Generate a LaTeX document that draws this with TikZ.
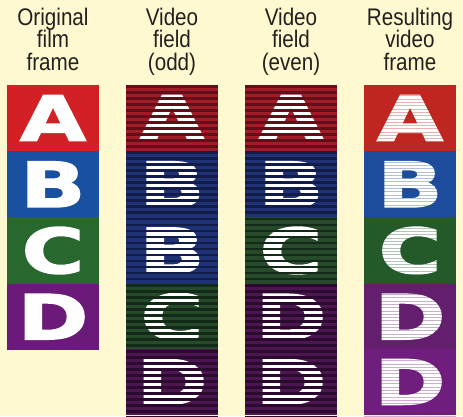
\documentclass[tikz,border=0pt]{standalone}
\usepackage{fontspec}
\setmainfont{Liberation Sans}
\newfontfamily\headfont[FakeStretch=0.86]{Liberation Sans}
\newfontfamily\blockfont[FakeStretch=1.38,FakeBold=2.5]{DejaVu Sans}
\usetikzlibrary{positioning}
\definecolor{paper}{RGB}{255,249,210}
\definecolor{headink}{RGB}{35,32,30}
% original film frame
\definecolor{filmred}{RGB}{210,32,36}
\definecolor{filmblue}{RGB}{26,80,160}
\definecolor{filmgreen}{RGB}{40,104,46}
\definecolor{filmpurple}{RGB}{108,26,122}
% video fields
\definecolor{fieldred}{RGB}{160,28,38}
\definecolor{fieldredline}{RGB}{98,14,24}
\definecolor{fieldblue}{RGB}{32,50,118}
\definecolor{fieldblueline}{RGB}{18,28,72}
\definecolor{fieldgreen}{RGB}{38,74,42}
\definecolor{fieldgreenline}{RGB}{20,42,24}
\definecolor{fieldpurple}{RGB}{76,22,80}
\definecolor{fieldpurpleline}{RGB}{44,10,48}
% resulting video frame
\definecolor{resred}{RGB}{192,38,32}
\definecolor{resblue}{RGB}{30,76,156}
\definecolor{resgreen}{RGB}{36,90,42}
\definecolor{respurple}{RGB}{100,30,110}
\definecolor{respurpleb}{RGB}{112,30,126}
\newcommand{\filmcell}[5]{%
  \fill[#4] (#2,#3) rectangle ++(92,66.2);
  \node[bigletter] (#1) at (#2+46,#3+33.1) {#5};
}
\newcommand{\scanlines}[5]{%
  \begin{scope}
    \clip (#1,#2) rectangle ++(92,66.2);
    \foreach \k in {0,...,#5} \draw[#3, line width=#4] (#1,#2+1.5+\k*6) -- ++(92,0);
  \end{scope}
}
\newcommand{\finelines}[3]{%
  \begin{scope}
    \clip (#1,#2) rectangle ++(92,66.2);
    \foreach \k in {0,...,20} \draw[#3, opacity=0.35, line width=0.9pt] (#1,#2+1+\k*3.3) -- ++(92,0);
  \end{scope}
}

\begin{document}
\begin{tikzpicture}[x=1pt, y=-1pt,
    bigletter/.style={text=white, inner sep=0pt, font=\blockfont\bfseries\fontsize{62}{62}\selectfont},
    header/.style={anchor=north, inner sep=0pt, align=center, text=headink, font=\headfont\fontsize{24}{22.5}\selectfont}]
  \fill[paper] (0,0) rectangle (463,416);
  \useasboundingbox (0,0) rectangle (463,416);
  % headings
  \node[header] (hfilm) at (53,7.5) {Original\\film\\frame};
  \node[header] (hodd) at (172,7.5) {Video\\field\\(odd)};
  \node[header] (heven) at (291,7.5) {Video\\field\\(even)};
  \node[header] (hres) at (410,7.5) {Resulting\\video\\frame};
  % original film frame
  \filmcell{filmA}{7}{85}{filmred}{A}
  \filmcell{filmB}{7}{151.2}{filmblue}{B}
  \filmcell{filmC}{7}{217.4}{filmgreen}{C}
  \filmcell{filmD}{7}{283.6}{filmpurple}{D}
  % video field (odd)
  \filmcell{oddA}{126}{85}{fieldred}{A}
  \scanlines{126}{85}{fieldredline}{2.8pt}{11}
  \filmcell{oddB}{126}{151.2}{fieldblue}{B}
  \scanlines{126}{151.2}{fieldblueline}{2.8pt}{11}
  \filmcell{oddBb}{126}{217.4}{fieldblue}{B}
  \scanlines{126}{217.4}{fieldblueline}{2.8pt}{11}
  \filmcell{oddC}{126}{283.6}{fieldgreen}{C}
  \scanlines{126}{283.6}{fieldgreenline}{2.8pt}{11}
  \filmcell{oddD}{126}{348.8}{fieldpurple}{D}
  \scanlines{126}{349.8}{fieldpurpleline}{2.8pt}{11}
  % video field (even)
  \filmcell{evenA}{245}{85}{fieldred}{A}
  \scanlines{245}{85}{fieldredline}{2.8pt}{11}
  \filmcell{evenB}{245}{151.2}{fieldblue}{B}
  \scanlines{245}{151.2}{fieldblueline}{2.8pt}{11}
  \filmcell{evenC}{245}{217.4}{fieldgreen}{C}
  \scanlines{245}{217.4}{fieldgreenline}{2.8pt}{11}
  \filmcell{evenD}{245}{283.6}{fieldpurple}{D}
  \scanlines{245}{283.6}{fieldpurpleline}{2.8pt}{11}
  \filmcell{evenDb}{245}{348.8}{fieldpurple}{D}
  \scanlines{245}{349.8}{fieldpurpleline}{2.8pt}{11}
  % resulting video frame
  \filmcell{resA}{364}{85}{resred}{A}
  \finelines{364}{85}{resred}
  \filmcell{resB}{364}{151.2}{resblue}{B}
  \finelines{364}{151.2}{resblue}
  \filmcell{resC}{364}{217.4}{resgreen}{C}
  \finelines{364}{217.4}{resgreen}
  \filmcell{resD}{364}{283.6}{respurple}{D}
  \finelines{364}{283.6}{respurple}
  \filmcell{resDb}{364}{348.8}{respurpleb}{D}
  \finelines{364}{349.8}{respurpleb}
\end{tikzpicture}
\end{document}
